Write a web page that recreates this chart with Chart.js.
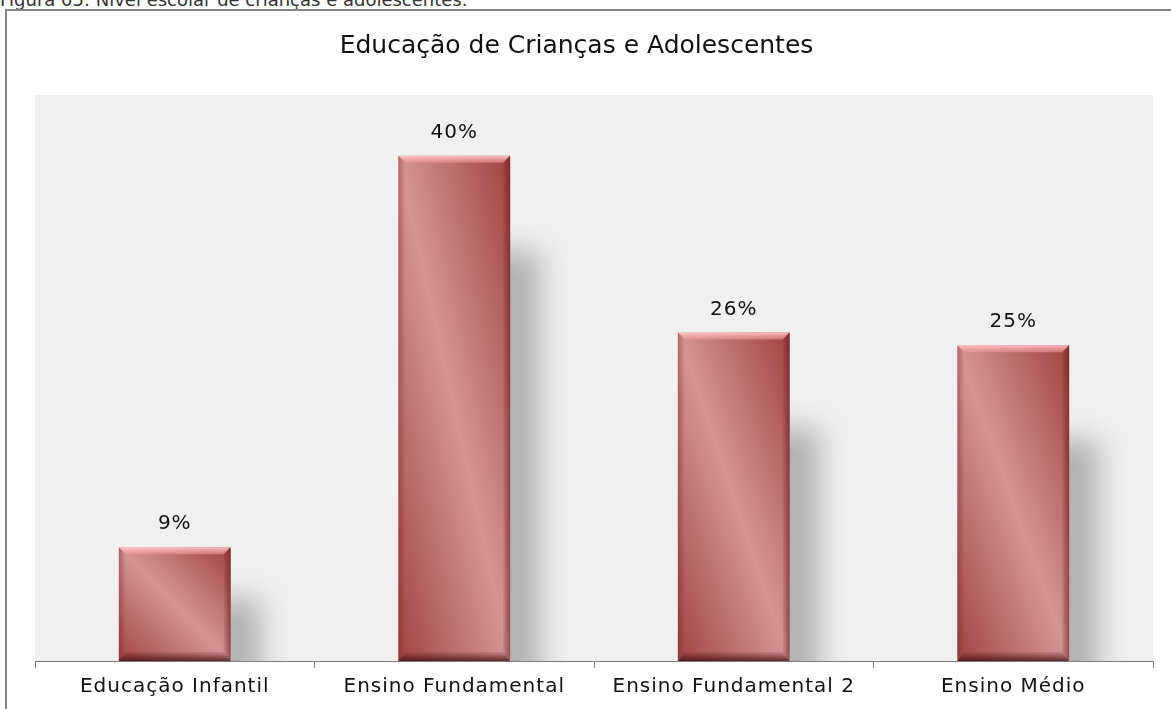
<!DOCTYPE html>
<html>
<head>
<meta charset="utf-8">
<script src="https://cdn.jsdelivr.net/npm/chart.js@4.4.1/dist/chart.umd.min.js"></script>
<style>
  html, body { margin: 0; padding: 0; background: #fff; width: 1171px; height: 709px; overflow: hidden; }
  #caption { position: absolute; left: 0; top: -9px; font: 18px "DejaVu Sans", sans-serif; line-height: 18px; color: #333; white-space: nowrap; }
  #frame { position: absolute; left: 5px; top: 9px; width: 1220px; height: 800px; border: 2px solid #858585; box-sizing: border-box; }
  #chart { position: absolute; left: 0; top: 0; }
</style>
</head>
<body>
<div id="caption">Figura 05: Nível escolar de crianças e adolescentes.</div>
<div id="frame"></div>
<canvas id="chart" width="1171" height="709"></canvas>
<script>
// chart data
const titleText = 'Educação de Crianças e Adolescentes';
const categories = ['Educação Infantil', 'Ensino Fundamental', 'Ensino Fundamental 2', 'Ensino Médio'];
const shares = [9, 40, 26, 25];
const shareLabels = ['9%', '40%', '26%', '25%'];
const yMax = 44.8;

const fontFamily = '"DejaVu Sans", Verdana, sans-serif';

// diagonal sheen across each bar, like the old excel 3d style
function barFill(c) {
    const chart = c.chart;
    const xs = chart.scales.x, ys = chart.scales.y;
    if (!xs || !ys || !chart.chartArea) return '#c06a6a';
    const w = xs.width / categories.length * 0.8 * 0.5;
    const cx = xs.getPixelForValue(c.dataIndex);
    const top = ys.getPixelForValue(shares[c.dataIndex]);
    const base = ys.getPixelForValue(0);
    const h = base - top;
    if (![w, cx, top, base].every(Number.isFinite) || h <= 0) return '#c06a6a';
    const len = Math.hypot(w, h);
    const nx = h / len, ny = -w / len, d = w * h / len;
    const my = (top + base) / 2;
    const g = chart.ctx.createLinearGradient(cx - nx * d, my - ny * d, cx + nx * d, my + ny * d);
    g.addColorStop(0, '#a04444');
    g.addColorStop(0.5, '#d49494');
    g.addColorStop(1, '#a04242');
    return g;
}

function poly(ctx, pts, fill) {
    ctx.beginPath();
    ctx.moveTo(pts[0][0], pts[0][1]);
    for (let i = 1; i < pts.length; i++) ctx.lineTo(pts[i][0], pts[i][1]);
    ctx.closePath();
    ctx.fillStyle = fill;
    ctx.fill();
}

const decor = {
    id: 'decor',
    beforeDraw(chart) {
        const {ctx, chartArea: a} = chart;
        ctx.save();
        ctx.fillStyle = '#f0f0f0';
        ctx.fillRect(a.left, a.top, a.right - a.left, a.bottom - a.top);
        ctx.restore();
        ctx.letterSpacing = '1px';
    },
    beforeDatasetsDraw(chart) {
        // soft shadow to the right of every bar
        const {ctx, chartArea: a} = chart;
        ctx.save();
        ctx.beginPath();
        ctx.rect(a.left, a.top, a.right - a.left, a.bottom - a.top);
        ctx.clip();
        ctx.filter = 'blur(14px)';
        ctx.fillStyle = 'rgba(0,0,0,0.26)';
        chart.getDatasetMeta(0).data.forEach(el => {
            const r = el.x + el.width / 2;
            const h = el.base - el.y;
            const top = el.y + Math.min(95, h * 0.45);
            ctx.fillRect(r - 25, top, 55, el.base - top + 40);
        });
        ctx.restore();
    },
    afterDatasetsDraw(chart) {
        const ctx = chart.ctx;
        const bv = 7;
        ctx.save();
        chart.getDatasetMeta(0).data.forEach((el, i) => {
            const l = el.x - el.width / 2, r = el.x + el.width / 2, t = el.y, b = el.base;
            let g = ctx.createLinearGradient(0, t, 0, t + bv);
            g.addColorStop(0, 'rgba(255,205,205,0.9)');
            g.addColorStop(1, 'rgba(240,150,150,0.55)');
            poly(ctx, [[l, t], [r, t], [r - bv, t + bv], [l + bv, t + bv]], g);
            g = ctx.createLinearGradient(0, b, 0, b - bv - 2);
            g.addColorStop(0, 'rgba(60,15,15,0.8)');
            g.addColorStop(1, 'rgba(90,30,30,0.1)');
            poly(ctx, [[l, b], [r, b], [r - bv, b - bv - 2], [l + bv, b - bv - 2]], g);
            g = ctx.createLinearGradient(r - bv, 0, r, 0);
            g.addColorStop(0, 'rgba(110,30,30,0.1)');
            g.addColorStop(1, 'rgba(110,25,25,0.6)');
            poly(ctx, [[r, t], [r, b], [r - bv, b - bv - 2], [r - bv, t + bv]], g);
            g = ctx.createLinearGradient(l, 0, l + bv, 0);
            g.addColorStop(0, 'rgba(120,35,35,0.4)');
            g.addColorStop(1, 'rgba(120,35,35,0)');
            poly(ctx, [[l, t], [l, b], [l + bv, b - bv - 2], [l + bv, t + bv]], g);

            // value label
            ctx.fillStyle = '#111';
            ctx.font = '20px ' + fontFamily;
            ctx.textAlign = 'center';
            ctx.textBaseline = 'middle';
            ctx.fillText(shareLabels[i], el.x, t - 23);
        });
        ctx.restore();
    },
    afterDraw(chart) {
        const ctx = chart.ctx;
        ctx.save();
        ctx.letterSpacing = '0px';
        ctx.fillStyle = '#111';
        ctx.font = '25px ' + fontFamily;
        ctx.textAlign = 'center';
        ctx.textBaseline = 'alphabetic';
        ctx.fillText(titleText, chart.width / 2 - 9, 53);
        ctx.restore();
    }
};

const ctx = document.getElementById('chart');
const chart = new Chart(ctx, {
    type: 'bar',
    data: {
        labels: categories,
        datasets: [{
            data: shares,
            backgroundColor: barFill,
            borderWidth: 0,
            categoryPercentage: 0.8,
            barPercentage: 0.5
        }]
    },
    options: {
        responsive: false,
        animation: false,
        layout: { padding: { top: 95, right: 18, left: 0, bottom: 0 } },
        plugins: {
            legend: { display: false },
            title: { display: false },
            tooltip: { enabled: false }
        },
        scales: {
            x: {
                grid: { display: true, drawOnChartArea: false, drawTicks: true, tickLength: 7, color: '#7e7e7e', offset: true },
                border: { display: true, color: '#7e7e7e', width: 1 },
                ticks: { color: '#111', font: { family: fontFamily, size: 20 }, padding: 7, maxRotation: 0, autoSkip: false },
                afterFit: s => { s.height = 48; }
            },
            y: {
                min: 0,
                max: yMax,
                grid: { display: false },
                border: { display: false },
                ticks: { display: false },
                afterFit: s => { s.width = 35; }
            }
        }
    },
    plugins: [decor]
});
</script>
</body>
</html>
